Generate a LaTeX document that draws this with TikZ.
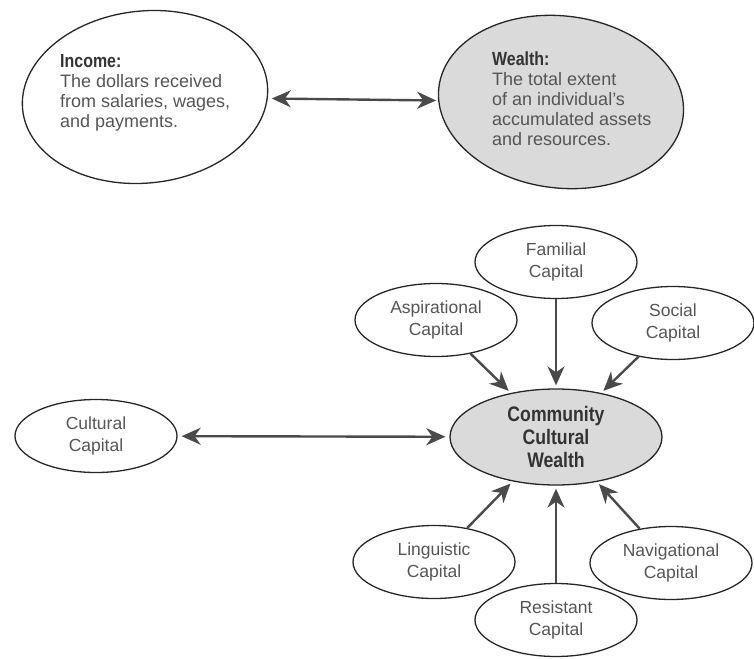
\documentclass[tikz,border=0pt]{standalone}
\usepackage{fontspec}
\setmainfont{Liberation Sans}
\newfontfamily\condfont[FakeStretch=0.84]{Liberation Sans}
\usetikzlibrary{shapes.geometric,arrows.meta}
\definecolor{ln}{HTML}{262626}
\definecolor{ar}{HTML}{4a4a4a}
\definecolor{txt}{HTML}{555555}
\definecolor{hd}{HTML}{333333}
\definecolor{shade}{HTML}{DADADA}
\begin{document}
\begin{tikzpicture}[x=1pt,y=1pt,
  ell/.style={ellipse, draw=ln, line width=1.3pt, inner sep=0pt},
  smallell/.style={ell, minimum width=162pt, minimum height=73pt, align=center,
    font=\fontsize{17.5}{22.5}\selectfont, text=txt},
  bigell/.style={ell, minimum width=246pt, minimum height=172pt},
  bodytext/.style={anchor=north west, align=left, inner sep=0pt, text=txt,
    font=\fontsize{18}{20}\selectfont},
  arr/.style={draw=ar, line width=2.4pt, -{Stealth[length=19pt,width=17pt,inset=6pt]}},
  dblarr/.style={draw=ar, line width=2.4pt, {Stealth[length=19pt,width=17pt,inset=6pt]}-{Stealth[length=19pt,width=17pt,inset=6pt]}},
]
\useasboundingbox (0,0) rectangle (754,-658);

% top ellipses
\node[bigell, rotate=6] (income) at (145,-97) {};
\node[bigell, rotate=-7, fill=shade] (wealth) at (561,-102) {};
\node[bodytext] (inctext) at (60,-54)
  {{\color{hd}\condfont\bfseries\fontsize{19}{20}\selectfont Income:}\\The dollars received\\from salaries, wages,\\and payments.};
\node[bodytext] (wlttext) at (492,-52)
  {{\color{hd}\condfont\bfseries\fontsize{19}{20}\selectfont Wealth:}\\The total extent\\of an individual's\\accumulated assets\\and resources.};
\draw[dblarr, shorten <=4pt, shorten >=2pt] (income) -- (wealth);

% community cultural wealth
\node[ell, fill=shade, minimum width=212pt, minimum height=96pt, align=center,
  font=\condfont\bfseries\fontsize{21}{23}\selectfont, text=hd] (ccw) at (556,-437)
  {Community\\Cultural\\Wealth};

\node[smallell] (fam) at (556,-262) {Familial\\Capital};
\node[smallell] (asp) at (436,-320) {Aspirational\\Capital};
\node[smallell] (soc) at (673,-323) {Social\\Capital};
\node[smallell] (cult) at (96,-436) {Cultural\\Capital};
\node[smallell] (ling) at (434,-562) {Linguistic\\Capital};
\node[smallell] (res) at (556,-620) {Resistant\\Capital};
\node[smallell] (nav) at (671,-563) {Navigational\\Capital};

\draw[arr, shorten >=3pt] (fam) -- (ccw);
\draw[arr, shorten >=3pt] (asp) -- (ccw);
\draw[arr, shorten >=3pt] (soc) -- (ccw);
\draw[arr, shorten >=3pt] (ling) -- (ccw);
\draw[arr, shorten >=3pt] (res) -- (ccw);
\draw[arr, shorten >=3pt] (nav) -- (ccw);
\draw[dblarr, shorten <=4pt, shorten >=4pt] (cult) -- (ccw);
\end{tikzpicture}
\end{document}
